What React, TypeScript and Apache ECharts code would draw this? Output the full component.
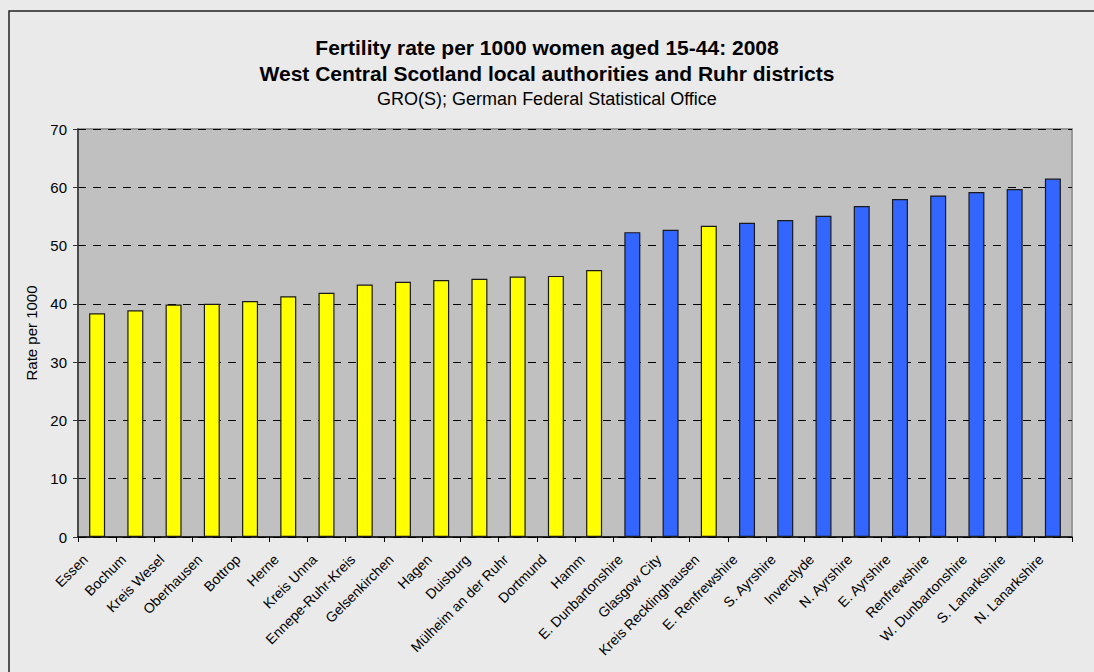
import React, { useEffect, useRef } from "react";
import * as echarts from "echarts";

const categories: string[] = [
  "Essen", "Bochum", "Kreis Wesel", "Oberhausen", "Bottrop", "Herne", "Kreis Unna",
  "Ennepe-Ruhr-Kreis", "Gelsenkirchen", "Hagen", "Duisburg", "Mülheim an der Ruhr",
  "Dortmund", "Hamm", "E. Dunbartonshire", "Glasgow City", "Kreis Recklinghausen",
  "E. Renfrewshire", "S. Ayrshire", "Inverclyde", "N. Ayrshire", "E. Ayrshire",
  "Renfrewshire", "W. Dunbartonshire", "S. Lanarkshire", "N. Lanarkshire",
];

const rates: number[] = [
  38.4, 38.9, 39.9, 40.0, 40.5, 41.3, 41.9, 43.3, 43.8, 44.1, 44.3, 44.7, 44.8, 45.8,
  52.3, 52.7, 53.4, 53.9, 54.4, 55.1, 56.8, 58.0, 58.6, 59.2, 59.7, 61.5,
];

// "R" = Ruhr district, "S" = West Central Scotland local authority
const regions: string[] = [
  "R", "R", "R", "R", "R", "R", "R", "R", "R", "R", "R", "R", "R", "R",
  "S", "S", "R", "S", "S", "S", "S", "S", "S", "S", "S", "S",
];

const yTicks: number[] = [0, 10, 20, 30, 40, 50, 60, 70];

const titleLines: string[] = [
  "Fertility rate per 1000 women aged 15-44: 2008",
  "West Central Scotland local authorities and Ruhr districts",
];
const subtitle = "GRO(S); German Federal Statistical Office";
const yAxisName = "Rate per 1000";

const regionColors: Record<string, string> = { R: "#ffff00", S: "#3366ff" };

export default function App() {
  const ref = useRef<HTMLDivElement>(null);

  useEffect(() => {
    if (!ref.current) return;
    const chart = echarts.init(ref.current, undefined, { renderer: "svg" });
    const font = "'Liberation Sans', Arial, sans-serif";
    chart.setOption({
      animation: false,
      backgroundColor: "#eaeaea",
      textStyle: { fontFamily: font },
      title: {
        text: titleLines.join("\n"),
        subtext: subtitle,
        left: "center",
        top: 29,
        itemGap: 3,
        textStyle: { fontSize: 21, fontWeight: "bold", color: "#000", lineHeight: 26, fontFamily: font },
        subtextStyle: { fontSize: 18, color: "#000", lineHeight: 20, fontFamily: font },
      },
      graphic: [
        {
          type: "rect",
          shape: { x: 9, y: 11, width: 1200, height: 800 },
          style: { fill: "none", stroke: "#222", lineWidth: 1.5 },
          silent: true,
          z: 100,
        },
      ],
      grid: {
        left: 78,
        right: 22,
        top: 129,
        bottom: 135,
        show: true,
        backgroundColor: "#c0c0c0",
        borderColor: "#999",
        borderWidth: 2,
      },
      xAxis: {
        type: "category",
        data: categories,
        boundaryGap: true,
        axisLine: { show: true, lineStyle: { color: "#000", width: 1.5 } },
        axisTick: { show: true, length: 5, lineStyle: { color: "#000" } },
        axisLabel: {
          interval: 0,
          rotate: 45,
          fontSize: 14,
          color: "#000",
          margin: 8,
          padding: [0, 17, 0, 0],
          fontFamily: font,
        },
      },
      yAxis: {
        type: "value",
        min: yTicks[0],
        max: yTicks[yTicks.length - 1],
        interval: 10,
        name: yAxisName,
        nameLocation: "middle",
        nameRotate: 90,
        nameGap: 32,
        nameTextStyle: { fontSize: 15, color: "#000", fontFamily: font },
        axisLine: { show: true, lineStyle: { color: "#333", width: 1.5 } },
        axisTick: { show: true, length: 5, lineStyle: { color: "#333" } },
        axisLabel: { fontSize: 15, color: "#000", margin: 11, fontFamily: font },
        splitLine: {
          show: true,
          lineStyle: { color: "#000", type: [8, 7], width: 1 },
        },
      },
      series: [
        {
          type: "bar",
          barWidth: 16,
          data: rates.map((v, i) => ({
            value: v,
            itemStyle: { color: regionColors[regions[i]] },
          })),
          itemStyle: { borderColor: "#1a1a1a", borderWidth: 1.2 },
        },
      ],
    });
    return () => chart.dispose();
  }, []);

  return (
    <div
      ref={ref}
      style={{ position: "fixed", left: 0, top: 0, width: 1094, height: 672 }}
    />
  );
}
